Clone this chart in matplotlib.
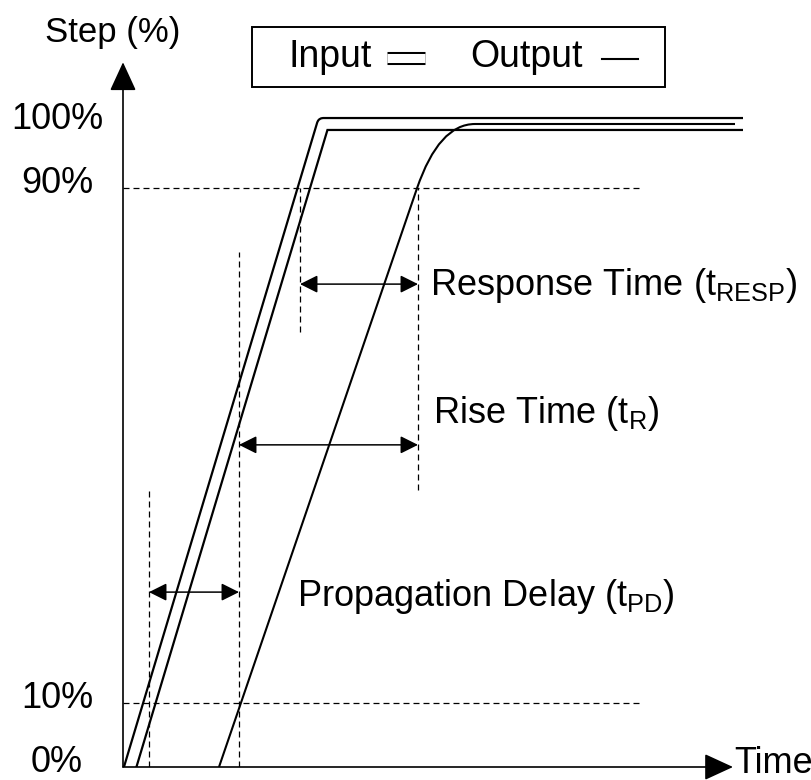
import matplotlib
matplotlib.use("Agg")
import matplotlib.pyplot as plt
import matplotlib.patheffects as pe
import matplotlib.transforms as mtransforms
from matplotlib.path import Path
from matplotlib.patches import PathPatch, FancyArrowPatch, Rectangle

plt.rcParams['font.family'] = ['Liberation Sans', 'DejaVu Sans']
plt.rcParams['mathtext.fontset'] = 'custom'
plt.rcParams['mathtext.rm'] = 'Liberation Sans'

# ---------------- data (time in arbitrary units, step in %) ----------------
series_names = ['Input', 'Output']

input_t = [1.4, 200, 620]
input_pct = [-3, 100, 100]

# output: linear rise, rounded knee (quadratic control point), plateau
output_t = [96, 294, 316, 352, 612]
output_pct = [0, 90, 100, 100, 100]

tick_vals = [0, 10, 90, 100]
tick_labels = ['0%', '10%', '90%', '100%']

level_pct = [10, 90]
level_end_t = 517

marker_t = [26, 116, 177, 295]
marker_lo = [0, 0, 67.7, 43.1]
marker_hi = [43.1, 80.1, 90, 90]

interval_names = ['Response Time', 'Rise Time', 'Propagation Delay']
interval_subs = ['RESP', 'R', 'PD']
interval_start = [177, 116, 26]
interval_end = [295, 295, 116]
interval_pct = [75.1, 50.1, 27.2]

# label placement (layout)
label_x = [307, 310, 174]
label_y = [73.4, 53.5, 25.0]

# ---------------- figure ----------------
W, H = 811, 780
fig = plt.figure(figsize=(W / 100, H / 100), dpi=100)
px_per_pct = 6.43
ax_left, ax_bottom = 123, 13
x_span, y_span = 640, 110
ax = fig.add_axes([ax_left / W, ax_bottom / H, x_span / W, y_span * px_per_pct / H])
ax.set_xlim(0, x_span)
ax.set_ylim(0, y_span)
for s in ax.spines.values():
    s.set_visible(False)
ax.set_xticks([])
ax.patch.set_alpha(0)

# y ticks
ax.set_yticks(tick_vals, tick_labels, fontsize=26)
ax.tick_params(axis='y', length=0, pad=47.5)
off = mtransforms.ScaledTranslation(0, 8.5 / 100, fig.dpi_scale_trans)
for t in ax.yaxis.get_major_ticks():
    t.label1.set_horizontalalignment('center')
    t.label1.set_transform(t.label1.get_transform() + off)

# input: double line
ax.plot(input_t, input_pct, color='white', lw=7.0, solid_joinstyle='round',
        solid_capstyle='butt', zorder=2,
        path_effects=[pe.Stroke(linewidth=10.2, foreground='black',
                                joinstyle='round', capstyle='butt'), pe.Normal()])

# output: single line with rounded knee
codes = [Path.MOVETO, Path.LINETO, Path.CURVE3, Path.CURVE3, Path.LINETO]
ax.add_patch(PathPatch(Path(list(zip(output_t, output_pct)), codes), fill=False,
                       edgecolor='black', lw=1.5, zorder=3))

# dashed guide lines
dash = (0, (4.8, 3.2))
ax.hlines(level_pct, 0, level_end_t, colors='black', lw=0.9, linestyles=[dash], zorder=4)
ax.vlines(marker_t, marker_lo, marker_hi, colors='black', lw=0.9, linestyles=[dash], zorder=4)

# interval arrows and labels
for name, sub, a, b, y, lx, ly in zip(interval_names, interval_subs, interval_start,
                                      interval_end, interval_pct, label_x, label_y):
    ax.add_patch(FancyArrowPatch((a, y), (b, y),
                                 arrowstyle='<|-|>,head_length=1.0,head_width=0.5',
                                 mutation_scale=10.8, lw=1.1, color='black',
                                 shrinkA=0, shrinkB=0, zorder=5))
    ax.text(lx, ly, name + ' (t$_{\\mathregular{' + sub + '}}$)', fontsize=26,
            ha='left', va='baseline', zorder=6)

# axes with arrow heads
ax.add_patch(FancyArrowPatch((0, 0), (0, 109.6),
                             arrowstyle='-|>,head_length=1.0,head_width=0.46',
                             mutation_scale=18, lw=1.2, color='black',
                             shrinkA=0, shrinkB=0, clip_on=False, zorder=6))
ax.add_patch(FancyArrowPatch((0, 0), (610, 0),
                             arrowstyle='-|>,head_length=1.0,head_width=0.46',
                             mutation_scale=18, lw=1.2, color='black',
                             shrinkA=0, shrinkB=0, clip_on=False, zorder=6))
ax.text(611, 0.6, 'Time', fontsize=26, ha='left', va='center', clip_on=False)
ax.text(-10, 114.3, 'Step (%)', fontsize=25, ha='center', va='center', clip_on=False)

# ---------------- legend box (overlay in pixel units) ----------------
lax = fig.add_axes([0, 0, 1, 1], zorder=10)
lax.set_xlim(0, W)
lax.set_ylim(H, 0)
lax.axis('off')
lax.add_patch(Rectangle((252, 27), 413, 60, fill=False, edgecolor='black', lw=1.4))
lax.text(288, 67, series_names[0], fontsize=27, ha='left', va='baseline')
lax.plot([387, 425], [57.5, 57.5], color='white', lw=6.5, solid_capstyle='butt',
         path_effects=[pe.Stroke(linewidth=9.4, foreground='black', capstyle='butt'),
                       pe.Normal()])
lax.text(470, 67, series_names[1], fontsize=27, ha='left', va='baseline')
lax.plot([602, 638], [59, 59], color='black', lw=1.5)

fig.savefig('out.png', dpi=100)
